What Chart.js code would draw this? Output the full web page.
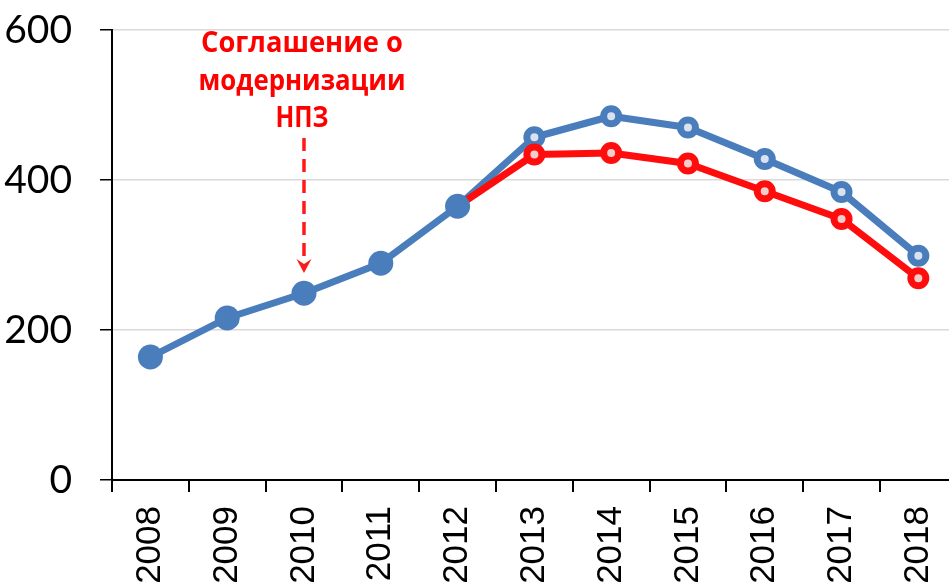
<!DOCTYPE html>
<html>
<head>
<meta charset="utf-8">
<script src="https://cdn.jsdelivr.net/npm/chart.js@4/dist/chart.umd.min.js"></script>
<style>
  html, body { margin: 0; padding: 0; background: #fff; overflow: hidden; width: 949px; height: 583px; }
  #wrap { position: absolute; left: 0; top: 0; width: 975px; height: 583px; }
</style>
</head>
<body>
<div id="wrap"><canvas id="c" width="975" height="583"></canvas></div>
<script>
// ---- data ----
const years = ['2008', '2009', '2010', '2011', '2012', '2013', '2014', '2015', '2016', '2017', '2018'];
const blueValues = [164, 216, 249, 289, 365, 457, 485, 470, 428, 384, 299];
const redValues = [null, null, null, null, 365, 434, 436, 422, 385, 348, 269];
const lastActualIndex = 4; // 2012: last filled (actual) point
const yTicks = [0, 200, 400, 600];
const annotationLines = ['Соглашение о', 'модернизации', 'НПЗ'];
const annotationYearIndex = 2; // 2010

const BLUE = '#4a7dbb';
const BLUE_LIGHT = '#d9e2f0';
const RED = '#ff0d0d';
const RED_LIGHT = '#f3cccc';

const blueFilled = blueValues.map((v, i) => i <= lastActualIndex ? v : null);

const annotationPlugin = {
  id: 'annot',
  afterDatasetsDraw(chart) {
    const ctx = chart.ctx;
    const xs = chart.scales.x, ys = chart.scales.y;
    const x = xs.getPixelForValue(annotationYearIndex);
    ctx.save();
    ctx.fillStyle = '#ff0000';
    ctx.font = 'bold 28px "Open Sans", "Noto Sans", sans-serif';
    ctx.textAlign = 'center';
    ctx.textBaseline = 'alphabetic';
    const baseVals = [571, 520, 471];
    const targets = [202, 207, 53];
    annotationLines.forEach((t, i) => {
      const w = ctx.measureText(t).width;
      ctx.save();
      ctx.translate(x - 2, ys.getPixelForValue(baseVals[i]));
      ctx.scale(targets[i] / w, 1);
      ctx.fillText(t, 0, 0);
      ctx.restore();
    });
    // dashed arrow
    const yStart = ys.getPixelForValue(456);
    const yTip = ys.getPixelForValue(276);
    ctx.strokeStyle = '#ff1a1a';
    ctx.lineWidth = 3.5;
    ctx.setLineDash([13, 8]);
    ctx.beginPath();
    ctx.moveTo(x, yStart);
    ctx.lineTo(x, yTip - 10);
    ctx.stroke();
    ctx.setLineDash([]);
    ctx.fillStyle = '#ff1a1a';
    ctx.beginPath();
    ctx.moveTo(x - 7.5, yTip - 14);
    ctx.lineTo(x, yTip - 9);
    ctx.lineTo(x + 7.5, yTip - 14);
    ctx.lineTo(x, yTip);
    ctx.closePath();
    ctx.fill();
    ctx.restore();
  }
};

new Chart(document.getElementById('c'), {
  type: 'line',
  data: {
    labels: years,
    datasets: [
      {
        label: 'filled',
        data: blueFilled,
        order: 0,
        showLine: false,
        pointRadius: 12.5,
        pointBorderWidth: 0,
        pointBackgroundColor: BLUE,
        pointBorderColor: BLUE,
        borderColor: BLUE,
      },
      {
        label: 'red',
        data: redValues,
        order: 1,
        borderColor: RED,
        borderWidth: 7,
        tension: 0,
        borderJoinStyle: 'round',
        pointRadius: redValues.map((v, i) => i <= lastActualIndex ? 0 : 7.5),
        pointBorderWidth: 7,
        pointBorderColor: RED,
        pointBackgroundColor: RED_LIGHT,
        spanGaps: false,
      },
      {
        label: 'blue',
        data: blueValues,
        order: 2,
        borderColor: BLUE,
        borderWidth: 7,
        tension: 0,
        borderJoinStyle: 'round',
        pointRadius: blueValues.map((v, i) => i <= lastActualIndex ? 0 : 7.5),
        pointBorderWidth: 7,
        pointBorderColor: BLUE,
        pointBackgroundColor: BLUE_LIGHT,
      }
    ]
  },
  options: {
    responsive: false,
    animation: false,
    events: [],
    layout: { padding: { top: 30, right: 6, left: 0, bottom: 0 } },
    plugins: { legend: { display: false }, tooltip: { enabled: false } },
    scales: {
      x: {
        type: 'category',
        offset: true,
        grid: { offset: true, drawOnChartArea: false, color: '#000', tickColor: '#000', tickLength: 12, lineWidth: 2 },
        border: { display: true, color: '#000', width: 2 },
        ticks: {
          autoSkip: false, minRotation: 90, maxRotation: 90, padding: 14,
          color: '#000', font: { family: '"Liberation Sans", Arial, sans-serif', size: 35 }
        },
        afterFit(scale) { scale.height = 103; }
      },
      y: {
        min: 0, max: 600,
        afterBuildTicks(scale) { scale.ticks = yTicks.map(v => ({ value: v })); },
        grid: { color: '#d9d9d9', lineWidth: 1.5, tickColor: '#000', tickLength: 12 },
        border: { display: true, color: '#000', width: 2 },
        ticks: {
          padding: 28, color: '#000',
          font: { family: 'Lato, "Liberation Sans", sans-serif', size: 39 }
        },
        afterFit(scale) { scale.width = 112; scale.paddingTop = 0; scale.paddingBottom = 0; }
      }
    }
  },
  plugins: [annotationPlugin]
});
</script>
</body>
</html>
